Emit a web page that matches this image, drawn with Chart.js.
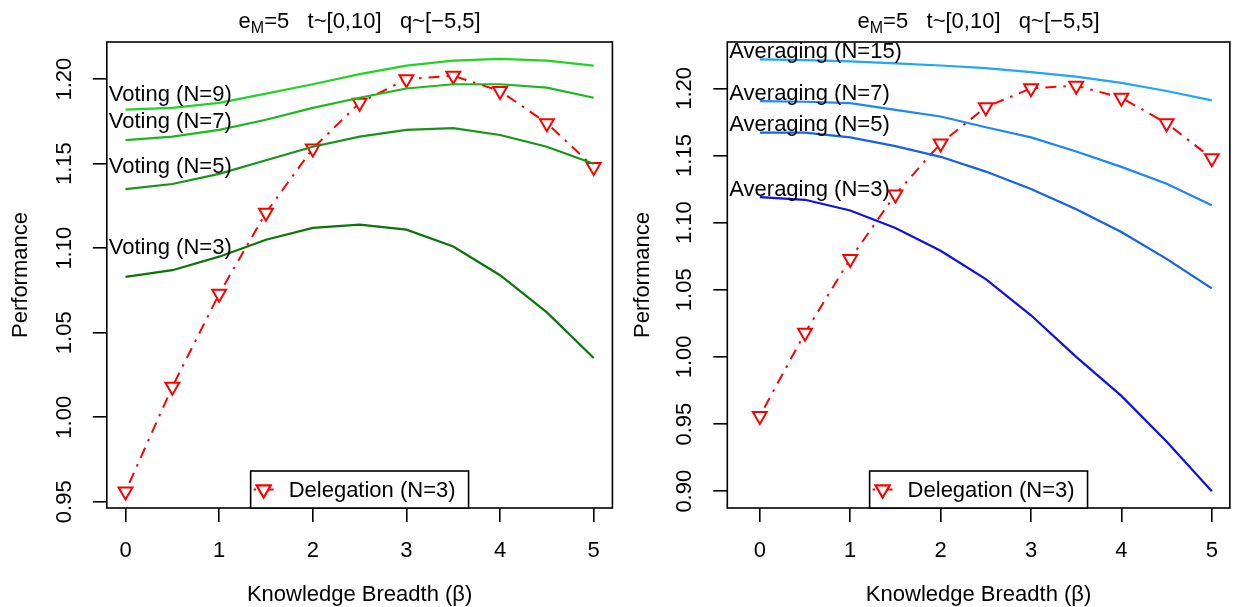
<!DOCTYPE html>
<html>
<head>
<meta charset="utf-8">
<script src="https://cdn.jsdelivr.net/npm/chart.js@4.4.1/dist/chart.umd.min.js"></script>
<style>
  body { margin: 0; background: #fff; }
  #wrap { position: relative; width: 1236px; height: 607px; }
  .panel { position: absolute; top: 0; width: 618px; height: 607px; }
</style>
</head>
<body>
<div id="wrap">
  <div class="panel" style="left:0"><canvas id="votingChart" width="618" height="607"></canvas></div>
  <div class="panel" style="left:618px"><canvas id="averagingChart" width="618" height="607"></canvas></div>
</div>
<script>
// knowledge breadth steps shared by every curve
const breadth = [0, 0.5, 1, 1.5, 2, 2.5, 3, 3.5, 4, 4.5, 5];

const delegation = [0.956, 1.018, 1.073, 1.121, 1.159, 1.186, 1.200, 1.202, 1.193, 1.174, 1.148];

const voting3 = [1.083, 1.087, 1.095, 1.105, 1.112, 1.114, 1.111, 1.101, 1.084, 1.062, 1.035];
const voting5 = [1.135, 1.138, 1.144, 1.152, 1.160, 1.166, 1.170, 1.171, 1.167, 1.160, 1.150];
const voting7 = [1.164, 1.166, 1.170, 1.176, 1.183, 1.189, 1.1945, 1.197, 1.197, 1.195, 1.189];
const voting9 = [1.182, 1.183, 1.186, 1.1915, 1.197, 1.203, 1.208, 1.211, 1.212, 1.211, 1.208];

const averaging3 = [1.119, 1.117, 1.109, 1.096, 1.079, 1.058, 1.031, 1.000, 0.971, 0.937, 0.900];
const averaging5 = [1.167, 1.167, 1.1635, 1.157, 1.149, 1.138, 1.125, 1.110, 1.093, 1.073, 1.051];
const averaging7 = [1.1905, 1.190, 1.189, 1.184, 1.179, 1.171, 1.1635, 1.153, 1.1415, 1.129, 1.113];
const averaging15 = [1.2216, 1.221, 1.220, 1.2186, 1.217, 1.215, 1.212, 1.2087, 1.204, 1.198, 1.191];

const xTicks = [0, 1, 2, 3, 4, 5];
const yTicksVoting = [0.95, 1.00, 1.05, 1.10, 1.15, 1.20];
const yTicksAveraging = [0.90, 0.95, 1.00, 1.05, 1.10, 1.15, 1.20];

const FAMILY = '"Liberation Sans", Arial, Helvetica, sans-serif';
const FSIZE = 22;
Chart.defaults.font.family = FAMILY;
Chart.defaults.font.size = FSIZE;
Chart.defaults.color = '#000';

const toPoints = vals => breadth.map((x, i) => ({ x: x, y: vals[i] }));

function curve(label, vals, color, labelAt) {
  return {
    label: label,
    data: toPoints(vals),
    borderColor: color,
    borderWidth: 2.2,
    pointRadius: 0,
    tension: 0,
    fill: false,
    labelAt: labelAt, // where the name is written at the left edge
    order: 1
  };
}

function delegationSeries() {
  return {
    label: 'Delegation (N=3)',
    data: toPoints(delegation),
    borderColor: '#ff0000',
    borderWidth: 2,
    borderDash: [2.5, 7, 11, 7],
    pointStyle: 'triangle',
    rotation: 180,
    pointRadius: 8,
    pointBorderWidth: 2,
    pointBorderColor: '#ff0000',
    pointBackgroundColor: '#ffffff',
    tension: 0,
    fill: false,
    inLegend: true,
    order: 5 // drawn underneath the other curves
  };
}

// square frame around the plotting region
const framePlugin = {
  id: 'frame',
  afterDatasetsDraw(chart) {
    const { ctx, chartArea: a } = chart;
    ctx.save();
    ctx.strokeStyle = '#000';
    ctx.lineWidth = 1.6;
    ctx.strokeRect(a.left, a.top, a.right - a.left, a.bottom - a.top);
    ctx.restore();
  }
};

// vertical tick labels on the y axis
const yLabelPlugin = {
  id: 'yLabels',
  afterDraw(chart) {
    const { ctx, chartArea, scales: { y } } = chart;
    ctx.save();
    ctx.font = FSIZE + 'px ' + FAMILY;
    ctx.fillStyle = '#000';
    ctx.textAlign = 'center';
    ctx.textBaseline = 'middle';
    y.ticks.forEach(t => {
      ctx.save();
      ctx.translate(chartArea.left - 42, y.getPixelForValue(t.value));
      ctx.rotate(-Math.PI / 2);
      ctx.fillText(t.value.toFixed(2), 0, 0);
      ctx.restore();
    });
    ctx.restore();
  }
};

// curve names written inside the plot, next to the left edge
const curveNamePlugin = {
  id: 'curveNames',
  afterDatasetsDraw(chart) {
    const { ctx, chartArea, scales: { y } } = chart;
    ctx.save();
    ctx.font = FSIZE + 'px ' + FAMILY;
    ctx.fillStyle = '#000';
    ctx.textAlign = 'left';
    ctx.textBaseline = 'middle';
    chart.data.datasets.forEach(ds => {
      if (ds.labelAt === undefined) return;
      ctx.fillText(ds.label, chartArea.left + 2, y.getPixelForValue(ds.labelAt));
    });
    ctx.restore();
  }
};

// boxed key at the bottom of the plot
const keyPlugin = {
  id: 'key',
  afterDraw(chart) {
    const { ctx, chartArea: a } = chart;
    const ds = chart.data.datasets.find(d => d.inLegend);
    if (!ds) return;
    ctx.save();
    ctx.font = FSIZE + 'px ' + FAMILY;
    const tw = ctx.measureText(ds.label).width;
    const w = tw + 51, h = 37;
    const x0 = (a.left + a.right) / 2 - w / 2;
    const y0 = a.bottom - h;
    ctx.fillStyle = '#fff';
    ctx.fillRect(x0, y0, w, h);
    ctx.strokeStyle = '#000';
    ctx.lineWidth = 1.6;
    ctx.strokeRect(x0, y0, w, h);
    const cy = y0 + h / 2;
    // line sample
    ctx.strokeStyle = ds.borderColor;
    ctx.lineWidth = ds.borderWidth;
    ctx.setLineDash(ds.borderDash);
    ctx.beginPath();
    ctx.moveTo(x0 + 3, cy);
    ctx.lineTo(x0 + 23, cy);
    ctx.stroke();
    ctx.setLineDash([]);
    // marker
    Chart.helpers.drawPoint(ctx, {
      pointStyle: ds.pointStyle,
      rotation: ds.rotation,
      radius: ds.pointRadius,
      borderWidth: ds.pointBorderWidth
    }, x0 + 13, cy);
    ctx.fillStyle = '#fff';
    ctx.strokeStyle = ds.pointBorderColor;
    ctx.lineWidth = ds.pointBorderWidth;
    ctx.beginPath();
    const r = ds.pointRadius, cx = x0 + 13;
    ctx.moveTo(cx, cy + r);
    ctx.lineTo(cx - 0.866 * r, cy - 0.5 * r);
    ctx.lineTo(cx + 0.866 * r, cy - 0.5 * r);
    ctx.closePath();
    ctx.fill();
    ctx.stroke();
    ctx.fillStyle = '#000';
    ctx.textAlign = 'left';
    ctx.textBaseline = 'middle';
    ctx.fillText(ds.label, x0 + 38, cy + 1);
    ctx.restore();
  }
};

// heading with a subscripted M
const headingPlugin = {
  id: 'heading',
  afterDraw(chart) {
    const { ctx, chartArea: a } = chart;
    const base = FSIZE + 'px ' + FAMILY;
    const small = Math.round(FSIZE * 0.72) + 'px ' + FAMILY;
    const rest = '=5   t~[0,10]   q~[\u22125,5]';
    ctx.save();
    ctx.fillStyle = '#000';
    ctx.textBaseline = 'alphabetic';
    ctx.font = base;
    const wE = ctx.measureText('e').width;
    const wRest = ctx.measureText(rest).width;
    ctx.font = small;
    const wM = ctx.measureText('M').width;
    let x = (a.left + a.right) / 2 - (wE + wM + wRest) / 2;
    const yb = 28;
    ctx.font = base;
    ctx.fillText('e', x, yb);
    x += wE;
    ctx.font = small;
    ctx.fillText('M', x, yb + 5);
    x += wM;
    ctx.font = base;
    ctx.fillText(rest, x, yb);
    ctx.restore();
  }
};

function makePanel(id, datasets, yTicks, yMin, yMax, xMin, geom) {
  const tickStyle = { display: true, drawOnChartArea: false, drawTicks: true, tickLength: 14, color: '#000', lineWidth: 1.6 };
  return new Chart(document.getElementById(id), {
    type: 'line',
    data: { datasets: datasets },
    options: {
      responsive: false,
      animation: false,
      events: [],
      layout: { autoPadding: false, padding: { top: 42, right: geom.right, bottom: 0, left: 0 } },
      plugins: { legend: { display: false }, tooltip: { enabled: false }, title: { display: false } },
      scales: {
        x: {
          type: 'linear',
          min: xMin,
          max: 5.2,
          afterBuildTicks: axis => { axis.ticks = xTicks.map(v => ({ value: v })); },
          afterFit: s => { s.height = 99; },
          grid: tickStyle,
          border: { display: false },
          ticks: { padding: 18, font: { size: FSIZE, lineHeight: 1 }, maxRotation: 0, callback: v => String(v) },
          title: { display: true, text: 'Knowledge Breadth (\u03b2)', font: { size: FSIZE, lineHeight: 1 }, padding: { top: 0, bottom: 1 } }
        },
        y: {
          type: 'linear',
          min: yMin,
          max: yMax,
          afterBuildTicks: axis => { axis.ticks = yTicks.map(v => ({ value: v })); },
          afterFit: s => { s.width = geom.left; },
          grid: tickStyle,
          border: { display: false },
          ticks: { display: false },
          title: { display: true, text: 'Performance', font: { size: FSIZE, lineHeight: 1 }, padding: { top: geom.titlePad, bottom: 0 } }
        }
      }
    },
    plugins: [framePlugin, yLabelPlugin, curveNamePlugin, keyPlugin, headingPlugin]
  });
}

makePanel('votingChart', [
  curve('Voting (N=9)', voting9, '#22d422', 1.1905),
  curve('Voting (N=7)', voting7, '#1cb81c', 1.1747),
  curve('Voting (N=5)', voting5, '#159515', 1.1481),
  curve('Voting (N=3)', voting3, '#0a760a', 1.0999),
  delegationSeries()
], yTicksVoting, 0.9463, 1.2220, -0.2, { left: 106.8, right: 5.1, titlePad: 10 });

makePanel('averagingChart', [
  curve('Averaging (N=15)', averaging15, '#1ea6f7', 1.2273),
  curve('Averaging (N=7)', averaging7, '#1e86f5', 1.1955),
  curve('Averaging (N=5)', averaging5, '#1660ee', 1.1726),
  curve('Averaging (N=3)', averaging3, '#1010e6', 1.1241),
  delegationSeries()
], yTicksAveraging, 0.8875, 1.2345, -0.36, { left: 109.3, right: 3, titlePad: 14 });
</script>
</body>
</html>
